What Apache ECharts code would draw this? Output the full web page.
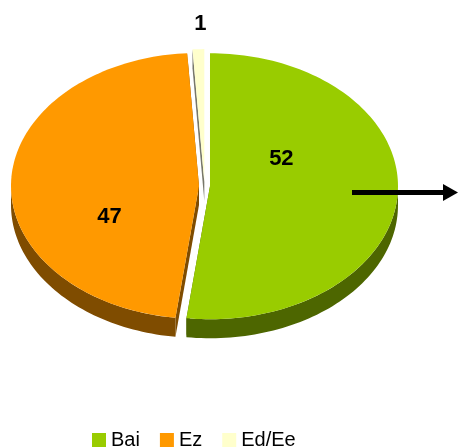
<!DOCTYPE html>
<html>
<head>
<meta charset="utf-8">
<script src="https://cdn.jsdelivr.net/npm/echarts@6/dist/echarts.min.js"></script>
<style>
  html, body { margin: 0; padding: 0; background: #fff; }
  #chart { width: 458px; height: 447px; }
</style>
</head>
<body>
<div id="chart"></div>
<script>
// data
const categories = ['Bai', 'Ez', 'Ed/Ee'];
const values = [52, 47, 1];

// colours (top face / side face)
const topColors = ['#99CC00', '#FF9900', '#FFFFCC'];
const sideColors = ['#4D6600', '#7F4C00', '#77776A'];

// layout of the tilted pie
const CX = 204.5, CY = 186, RX = 188, RY = 133;
const DEPTH = 19, EXPLODE = 5.5;
// label placement per slice: [angle from top in degrees, radius fraction]
const LABEL_AT = [[62, 0.43], [244, 0.53], [359, 1.19]];

const total = values.reduce((a, b) => a + b, 0);

function sliceGeom(i) {
  let before = 0;
  for (let k = 0; k < i; k++) before += values[k];
  const a0 = before / total * Math.PI * 2;
  const a1 = (before + values[i]) / total * Math.PI * 2;
  const mid = (a0 + a1) / 2;
  const c = [CX + EXPLODE * Math.sin(mid), CY - EXPLODE * (RY / RX) * Math.cos(mid)];
  return { a0, a1, c };
}

function pt(c, t, dy) {
  return [c[0] + RX * Math.sin(t), c[1] - RY * Math.cos(t) + (dy || 0)];
}

function arc(c, a0, a1, dy) {
  const n = Math.max(2, Math.ceil((a1 - a0) / (Math.PI / 120)));
  const pts = [];
  for (let k = 0; k <= n; k++) pts.push(pt(c, a0 + (a1 - a0) * k / n, dy));
  return pts;
}

function renderSide(i) {
  return function (params, api) {
    const g = sliceGeom(i);
    const c = g.c;
    const cd = [c[0], c[1] + DEPTH];
    const children = [];
    // radial cut faces
    [g.a0, g.a1].forEach(function (a) {
      const p = pt(c, a), pd = pt(c, a, DEPTH);
      children.push({
        type: 'polygon',
        shape: { points: [c, p, pd, cd] },
        style: { fill: sideColors[i] }
      });
    });
    // outer rim, only the front half is visible
    const s = Math.max(g.a0, Math.PI / 2), e = Math.min(g.a1, Math.PI * 1.5);
    if (e > s) {
      const up = arc(c, s, e, 0);
      const down = arc(c, s, e, DEPTH).reverse();
      children.push({
        type: 'polygon',
        shape: { points: up.concat(down) },
        style: { fill: sideColors[i] }
      });
    }
    return { type: 'group', children: children };
  };
}

function renderTop(i) {
  return function (params, api) {
    const g = sliceGeom(i);
    const c = g.c;
    const la = LABEL_AT[i][0] * Math.PI / 180, lr = LABEL_AT[i][1];
    return {
      type: 'group',
      children: [
        {
          type: 'polygon',
          shape: { points: [c].concat(arc(c, g.a0, g.a1, 0)) },
          style: { fill: topColors[i] }
        },
        {
          type: 'text',
          x: c[0] + RX * lr * Math.sin(la),
          y: c[1] - RY * lr * Math.cos(la),
          style: {
            text: String(api.value(0)),
            fill: '#000',
            fontSize: 22,
            fontWeight: 'bold',
            fontFamily: 'Liberation Sans, Arial, sans-serif',
            align: 'center',
            verticalAlign: 'middle'
          }
        }
      ]
    };
  };
}

const series = [];
categories.forEach(function (name, i) {
  series.push({
    name: name,
    type: 'custom',
    coordinateSystem: 'none',
    z: 3,
    itemStyle: { color: topColors[i] },
    renderItem: renderTop(i),
    data: [values[i]]
  });
});
categories.forEach(function (name, i) {
  series.push({
    name: name,
    type: 'custom',
    coordinateSystem: 'none',
    z: 2,
    itemStyle: { color: topColors[i] },
    renderItem: renderSide(i),
    data: [values[i]]
  });
});

const chart = echarts.init(document.getElementById('chart'));
chart.setOption({
  animation: false,
  legend: {
    left: 92,
    top: 430,
    padding: 0,
    itemWidth: 14,
    itemHeight: 14,
    itemGap: 20,
    icon: 'rect',
    selectedMode: false,
    textStyle: { fontSize: 20, fontFamily: 'Liberation Sans, Arial, sans-serif', color: '#000' },
    data: categories.map(function (n, i) {
      return { name: n, itemStyle: { color: topColors[i] } };
    })
  },
  graphic: [
    {
      type: 'line',
      z: 10,
      shape: { x1: 352, y1: 192.5, x2: 446, y2: 192.5 },
      style: { stroke: '#000', lineWidth: 5 }
    },
    {
      type: 'polygon',
      z: 10,
      shape: { points: [[443, 184], [458, 192.5], [443, 201]] },
      style: { fill: '#000' }
    }
  ],
  series: series
});
</script>
</body>
</html>
